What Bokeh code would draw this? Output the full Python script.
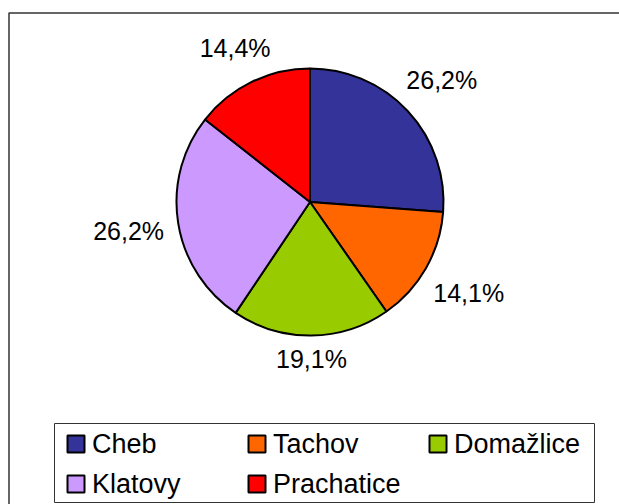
import math
from bokeh.plotting import figure
from bokeh.models import Range1d, ColumnDataSource
from bokeh.core.properties import value
from bokeh.embed import file_html
from bokeh.resources import INLINE

# ---- data ----
districts = ["Cheb", "Tachov", "Domažlice", "Klatovy", "Prachatice"]
shares = [26.2, 14.1, 19.1, 26.2, 14.4]
colors = ["#333399", "#FF6600", "#99CC00", "#CC99FF", "#FF0000"]
labels = ["26,2%", "14,1%", "19,1%", "26,2%", "14,4%"]

W, H = 619, 504
p = figure(width=W, height=H, x_range=Range1d(0, W), y_range=Range1d(0, H),
           output_backend="svg", toolbar_location=None, min_border=0,
           background_fill_color="white", border_fill_color="white")
p.axis.visible = False
p.grid.visible = False
p.outline_line_color = None

def X(px):
    return px

def Y(py):
    return H - py

# outer frame (top and left visible, rest clipped by window)
p.line(x=[X(8.5), X(8.5), W + 5], y=[-5, Y(12.5), Y(12.5)], line_color="#333333", line_width=1.5)

# ---- pie ----
cx, cy, r = X(309.5), Y(201.5), 133.5
total = sum(shares)
starts, ends, mids = [], [], []
acc = 0.0
for s in shares:
    a0 = math.pi / 2 - 2 * math.pi * acc / total
    acc += s
    a1 = math.pi / 2 - 2 * math.pi * acc / total
    starts.append(a1)
    ends.append(a0)
    mids.append((a0 + a1) / 2)

src = ColumnDataSource(dict(start=starts, end=ends, color=colors))
p.wedge(x=cx, y=cy, radius=r, start_angle="start", end_angle="end",
        fill_color="color", line_color="black", line_width=2, source=src)

# ---- data labels ----
fs = 25
hw, hh, gap = 36, 10, 13
lx, ly = [], []
for m in mids:
    c, s = math.cos(m), math.sin(m)
    d = r + gap + abs(c) * hw + abs(s) * hh
    lx.append(cx + d * c)
    ly.append(cy + d * s)
p.text(x=lx, y=ly, text=labels, text_align="center", text_baseline="middle",
       text_font=value("Liberation Sans"), text_font_size=f"{fs}px", text_color="black")

# ---- legend ----
p.quad(left=X(54), right=X(594), bottom=Y(502), top=Y(423), fill_color="white",
       line_color="#333333", line_width=1)
col_x0, col_step = X(66), 181
row_y = [Y(443.5), Y(483.5)]
sq_x, sq_y, tx, ty = [], [], [], []
for i, name in enumerate(districts):
    col, row = i % 3, i // 3
    x0 = col_x0 + col * col_step
    sq_x.append(x0 + 9.5)
    sq_y.append(row_y[row])
    tx.append(x0 + 25.5)
    ty.append(row_y[row])
p.rect(x=sq_x, y=sq_y, width=17, height=17, fill_color=colors,
       line_color="black", line_width=2)
p.text(x=tx, y=ty, text=districts, text_align="left", text_baseline="middle",
       text_font=value("Liberation Sans"), text_font_size="27px", text_color="black")

open("out.html", "w").write(file_html(p, INLINE))
